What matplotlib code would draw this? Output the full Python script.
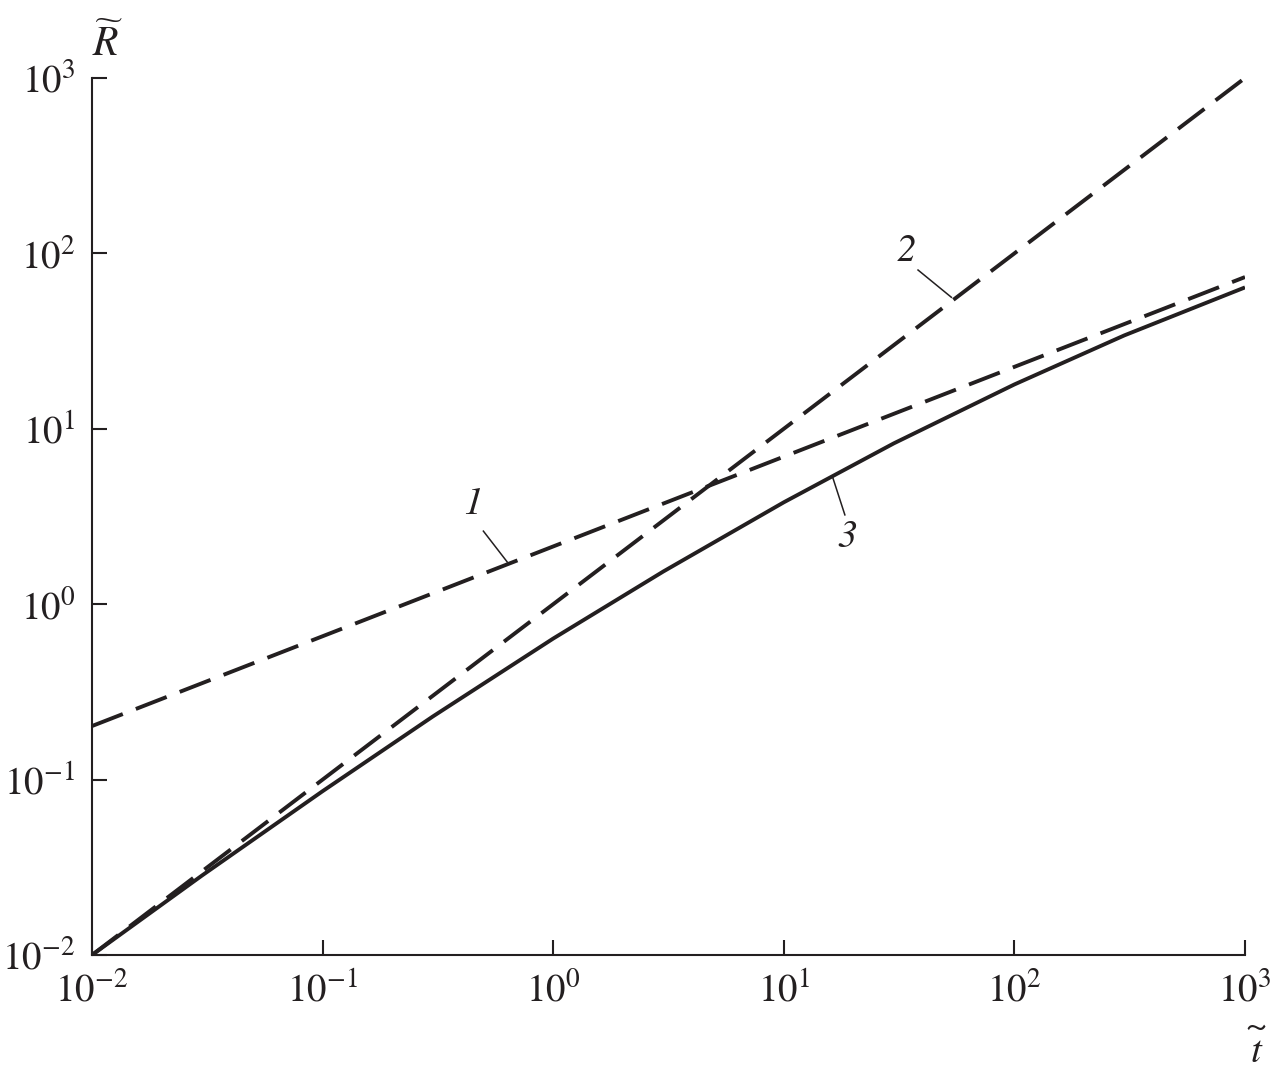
import matplotlib
matplotlib.use("Agg")
import matplotlib.pyplot as plt
from matplotlib.ticker import LogFormatterMathtext, NullLocator

plt.rcParams['font.family'] = ['STIXGeneral', 'DejaVu Serif']
plt.rcParams['mathtext.fontset'] = 'stix'

# Curve 1 (dashed, ~ t^0.5 asymptote)
t1 = [0.01, 1000]
r1 = [0.202, 73.3]
# Curve 2 (dashed, R = t)
t2 = [0.01, 1000]
r2 = [0.01, 1000]
# Curve 3 (solid)
t3 = [0.01, 0.03, 0.1, 0.3, 1, 3, 10, 30, 100, 300, 1000]
r3 = [0.0100, 0.0284, 0.0859, 0.2286, 0.637, 1.535, 3.81, 8.26, 17.9, 34.1, 64.0]

xticks = [1e-2, 1e-1, 1e0, 1e1, 1e2, 1e3]
yticks = [1e-2, 1e-1, 1e0, 1e1, 1e2, 1e3]

# label positions (data coords): text, label point, leader start, leader end
labels = [
    ("1", (0.446, 3.68), (0.498, 2.61), (0.632, 1.74)),
    ("2", (34.1, 101.9), (38.2, 80.4), (53.3, 56.2)),
    ("3", (18.9, 2.41), (18.4, 3.23), (16.3, 5.28)),
]

fig = plt.figure(figsize=(12.76, 10.76), dpi=100)
ax = fig.add_axes([92/1276, 1 - 955/1076, (1245-92)/1276, (955-78)/1076])
ax.set_xscale('log')
ax.set_yscale('log')
ax.set_xlim(1e-2, 1e3)
ax.set_ylim(1e-2, 1e3)

lw = 2.8
dash = (0, (8.5, 3.6))
ax.plot(t1, r1, color='#231f20', lw=lw, linestyle=dash, dash_capstyle='butt')
ax.plot(t2, r2, color='#231f20', lw=lw, linestyle=dash, dash_capstyle='butt')
ax.plot(t3, r3, color='#231f20', lw=lw, solid_capstyle='butt', solid_joinstyle='round')

for txt, lp, ls, le in labels:
    ax.text(lp[0], lp[1], txt, fontsize=28, style='italic', ha='center', va='center', color='#231f20')
    ax.plot([ls[0], le[0]], [ls[1], le[1]], color='#231f20', lw=1.1)

for s in ['top', 'right']:
    ax.spines[s].set_visible(False)
for s in ['left', 'bottom']:
    ax.spines[s].set_linewidth(1.5)
    ax.spines[s].set_color('#231f20')

ax.set_xticks(xticks)
ax.set_yticks(yticks)
ax.xaxis.set_major_formatter(LogFormatterMathtext())
ax.yaxis.set_major_formatter(LogFormatterMathtext())
ax.xaxis.set_minor_locator(NullLocator())
ax.yaxis.set_minor_locator(NullLocator())
ax.tick_params(which='major', direction='in', length=11, width=1.5, labelsize=28,
               colors='#231f20')
ax.tick_params(axis='x', pad=12)
ax.tick_params(axis='y', pad=12)

ax.text(0.014, 1.038, r'$\widetilde{R}$', transform=ax.transAxes, fontsize=30,
        ha='center', va='center', color='#231f20')
# axis label t with a wide tilde (one text object)
ax.text(1.0095, -0.097, '~\nt', transform=ax.transAxes, fontsize=28, style='italic',
        ha='center', va='center', multialignment='center', linespacing=0.62,
        color='#231f20')

fig.savefig('out.png', dpi=100, facecolor='white')
